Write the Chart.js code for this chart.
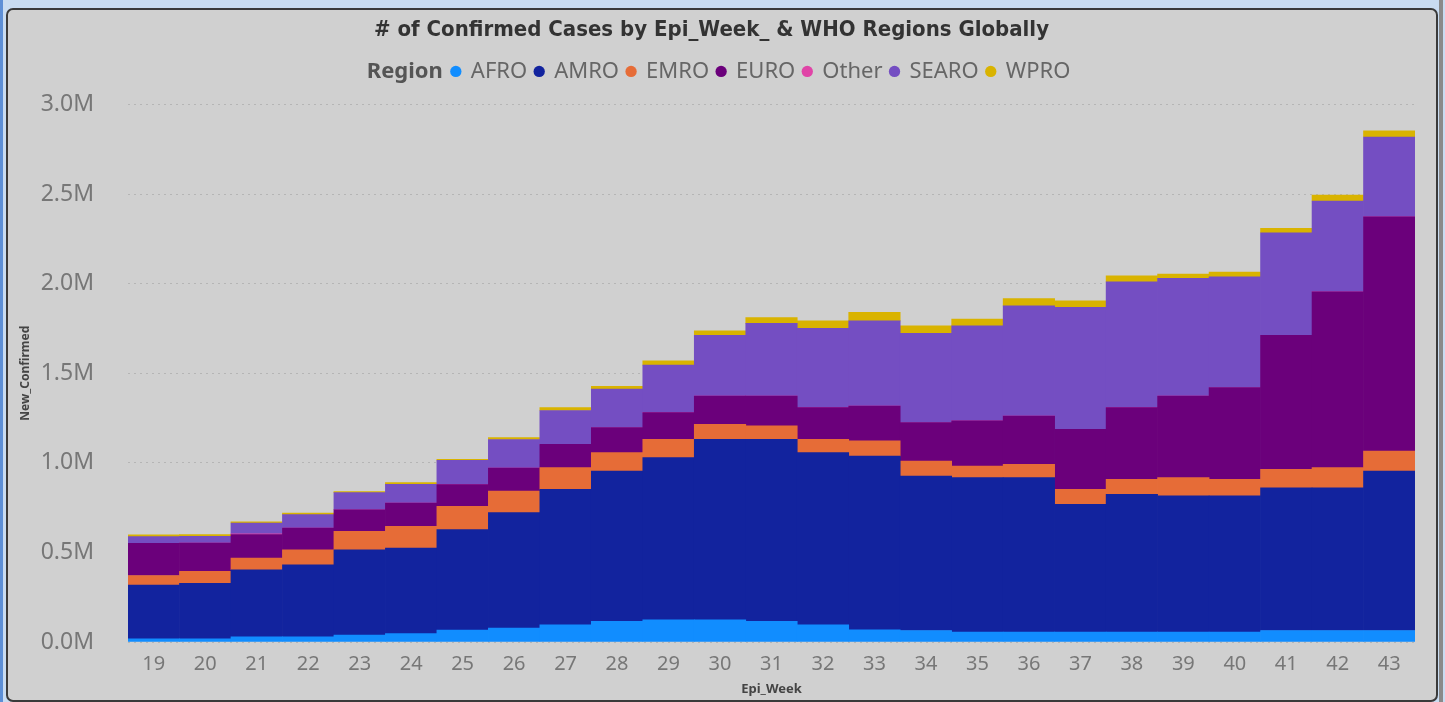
<!DOCTYPE html>
<html>
<head>
    <title># of Confirmed Cases by Epi_Week_ & WHO Regions Globally</title>
    <script src="https://cdn.jsdelivr.net/npm/chart.js"></script>
    <style>
        body { margin: 0; background: #c9dcf1; width: 1445px; height: 702px; overflow: hidden; position: relative; }
        .edge { position: absolute; left: 0; top: 0; width: 3px; height: 702px; background: #5d8fd6; }
        .scroll { position: absolute; left: 1439px; top: 0; width: 4px; height: 702px; background: #8a8a8a; }
        .card { position: absolute; left: 6px; top: 8px; width: 1428px; height: 690px; background: #d0d0d0;
                border: 2px solid #3a3a3a; border-radius: 7px; }
        canvas { position: absolute; left: 0; top: 0; }
    </style>
</head>
<body>
    <div class="edge"></div>
    <div class="scroll"></div>
    <div class="card">
        <canvas id="mainChart" width="1428" height="690"></canvas>
    </div>
    <script>
        // Epi weeks and new confirmed cases per WHO region
        const weeks = ['19', '20', '21', '22', '23', '24', '25', '26', '27', '28', '29', '30', '31',
            '32', '33', '34', '35', '36', '37', '38', '39', '40', '41', '42', '43'];

        const afro = [18000, 18000, 29000, 29000, 38000, 47000, 66000, 77000, 96000, 115000, 124000,
            124000, 115000, 96000, 68000, 64000, 55000, 55000, 55000, 55000, 55000, 55000, 64000, 64000, 64000];
        const amro = [300000, 310000, 374000, 402000, 477000, 477000, 561000, 645000, 756000, 839000,
            905000, 1007000, 1016000, 961000, 970000, 862000, 862000, 862000, 713000, 769000, 760000,
            760000, 797000, 797000, 890000];
        const emro = [53000, 66000, 65000, 84000, 102000, 121000, 130000, 120000, 121000, 103000, 102000,
            84000, 75000, 74000, 84000, 84000, 65000, 75000, 84000, 84000, 102000, 93000, 103000, 112000, 112000];
        const euro = [180000, 158000, 132000, 121000, 121000, 130000, 121000, 129000, 130000, 140000,
            149000, 158000, 167000, 177000, 195000, 215000, 252000, 269000, 335000, 400000, 456000,
            512000, 748000, 981000, 1307000];
        const other = [0, 0, 4000, 0, 0, 0, 0, 0, 0, 0, 0, 0, 0, 0, 0, 0, 0, 0, 0, 0, 0, 0, 0, 0, 0];
        const searo = [37000, 37000, 60000, 75000, 96000, 105000, 136000, 159000, 189000, 215000, 265000,
            339000, 405000, 442000, 475000, 497000, 530000, 615000, 680000, 702000, 656000, 618000,
            572000, 507000, 445000];
        const wpro = [10000, 10000, 7000, 9000, 6000, 9000, 6000, 11000, 16000, 15000, 24000, 24000,
            33000, 42000, 47000, 42000, 38000, 41000, 37000, 34000, 24000, 26000, 24000, 33000, 34000];

        const yTicks = [0, 500000, 1000000, 1500000, 2000000, 2500000, 3000000];

        Chart.defaults.font.family = '"Noto Sans", "Open Sans", sans-serif';

        const series = [
            { label: 'AFRO', data: afro, color: '#118DFF' },
            { label: 'AMRO', data: amro, color: '#12239E' },
            { label: 'EMRO', data: emro, color: '#E66C37' },
            { label: 'EURO', data: euro, color: '#6B007B' },
            { label: 'Other', data: other, color: '#E044A7' },
            { label: 'SEARO', data: searo, color: '#744EC2' },
            { label: 'WPRO', data: wpro, color: '#D9B300' }
        ];

        // bold "Region" caption in front of the legend entries,
        // plus some extra room under the legend row
        const regionLabel = {
            id: 'regionLabel',
            beforeLayout(chart) {
                const lg = chart.legend;
                if (lg && !lg._extraRoom) {
                    const fit = lg.fit.bind(lg);
                    lg.fit = function () { fit(); this.height += 12; };
                    lg._extraRoom = true;
                }
            },
            afterDraw(chart) {
                const boxes = chart.legend.legendHitBoxes;
                if (!boxes || boxes.length < 2) return;
                const ctx = chart.ctx;
                ctx.save();
                ctx.font = 'bold 22px "Noto Sans"';
                ctx.fillStyle = '#555555';
                ctx.textBaseline = 'middle';
                ctx.textAlign = 'right';
                ctx.fillText('Region', boxes[1].left - 9, boxes[0].top + boxes[0].height / 2);
                ctx.restore();
            }
        };

        new Chart(document.getElementById('mainChart'), {
            type: 'bar',
            data: {
                labels: weeks,
                datasets: series.map(s => ({
                    label: s.label,
                    data: s.data,
                    backgroundColor: s.color,
                    borderWidth: 0,
                    categoryPercentage: 1.0,
                    barPercentage: 1.0
                }))
            },
            options: {
                responsive: false,
                maintainAspectRatio: false,
                animation: false,
                layout: { padding: { left: 0, right: 21, top: 2, bottom: 3 } },
                scales: {
                    x: {
                        stacked: true,
                        afterFit: axis => { axis.height = 55; },
                        grid: { display: false },
                        border: { display: false },
                        ticks: { color: '#777777', font: { size: 20 }, padding: 2 },
                        title: {
                            display: true,
                            text: 'Epi_Week',
                            color: '#444444',
                            font: { size: 13, weight: 'bold' },
                            padding: { top: 0, bottom: 0 }
                        }
                    },
                    y: {
                        stacked: true,
                        min: 0,
                        max: 3000000,
                        afterBuildTicks: axis => { axis.ticks = yTicks.map(v => ({ value: v })); },
                        afterFit: axis => { axis.width = 120; },
                        grid: { color: 'rgba(0,0,0,0.13)', drawTicks: false, lineWidth: 1 },
                        border: { display: false, dash: [2, 4] },
                        ticks: {
                            color: '#777777',
                            font: { size: 23 },
                            padding: 34,
                            callback: v => (v / 1000000).toFixed(1) + 'M'
                        },
                        title: {
                            display: true,
                            text: 'New_Confirmed',
                            color: '#444444',
                            font: { size: 12, weight: 'bold' },
                            padding: { top: 10, bottom: 0 }
                        }
                    }
                },
                plugins: {
                    title: {
                        display: true,
                        text: '# of Confirmed Cases by Epi_Week_ & WHO Regions Globally',
                        color: '#333333',
                        font: { size: 22, weight: 'bold', family: '"DejaVu Sans Condensed", Roboto, sans-serif' },
                        padding: { top: 5, bottom: 9 }
                    },
                    legend: {
                        position: 'top',
                        onClick: () => {},
                        labels: {
                            color: '#666666',
                            font: { size: 22 },
                            usePointStyle: true,
                            pointStyle: 'circle',
                            boxWidth: 8,
                            boxHeight: 8,
                            padding: 8,
                            generateLabels: chart => {
                                const items = Chart.defaults.plugins.legend.labels.generateLabels(chart);
                                items.unshift({
                                    text: 'Region',
                                    fillStyle: 'rgba(0,0,0,0)',
                                    strokeStyle: 'rgba(0,0,0,0)',
                                    fontColor: 'rgba(0,0,0,0)',
                                    lineWidth: 0,
                                    hidden: false,
                                    pointStyle: 'circle',
                                    datasetIndex: -1
                                });
                                return items;
                            }
                        }
                    },
                    tooltip: { enabled: false }
                }
            },
            plugins: [regionLabel]
        });
    </script>
</body>
</html>
